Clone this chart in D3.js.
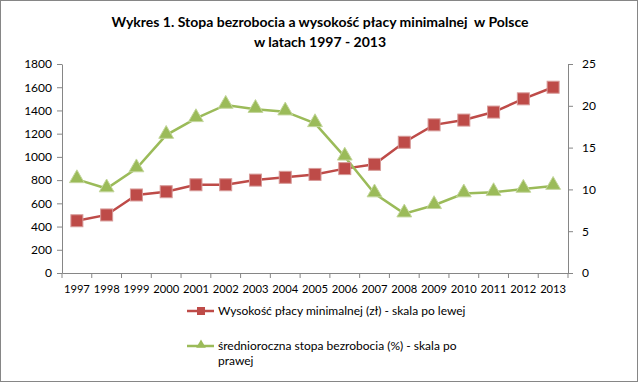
<!DOCTYPE html>
<html><head><meta charset="utf-8">
<script src="https://cdn.jsdelivr.net/npm/d3@7"></script>
<style>body{margin:0;background:#fff}svg{display:block}text{font-family:Lato,"Open Sans",sans-serif}</style>
</head><body><svg id="c" width="640" height="383"></svg>
<script>
const years = ["1997","1998","1999","2000","2001","2002","2003","2004","2005","2006","2007","2008","2009","2010","2011","2012","2013"];
const wage = [450,500,672,700,760,760,800,824,849,899,936,1126,1276,1317,1386,1500,1600];
const unemployment = [11.2,10.1,12.5,16.5,18.5,20.1,19.6,19.3,17.9,13.9,9.5,7.1,8.1,9.5,9.65,10.05,10.4];
const leftTicks = [0,200,400,600,800,1000,1200,1400,1600,1800];
const rightTicks = [0,5,10,15,20,25];
const seriesNames = ["Wysokość płacy minimalnej (zł) - skala po lewej","średnioroczna stopa bezrobocia (%) - skala po","prawej"];
const titleLines = ["Wykres 1. Stopa bezrobocia a wysokość płacy minimalnej  w Polsce","w latach 1997 - 2013"];

const svg = d3.select("#c");
const L=62, R=568, T=64, B=273;
const axisCol="#868686", red="#be4b48", green="#9bbb59";
svg.append("rect").attr("x",0.5).attr("y",0.5).attr("width",637).attr("height",381).attr("fill","#fff").attr("stroke",axisCol);

const x = d3.scaleBand().domain(years).range([L,R]);
const yL = d3.scaleLinear().domain([0,1800]).range([B,T]);
const yR = d3.scaleLinear().domain([0,25]).range([B,T]);

svg.selectAll(".tt").data(titleLines).join("text").attr("x",320).attr("y",(d,i)=>27+i*20)
  .attr("text-anchor","middle").attr("font-weight","bold").attr("font-size",14).style("white-space","pre").text(d=>d);

// axes
const gl = svg.append("g").attr("transform",`translate(${L},0)`).call(d3.axisLeft(yL).tickValues(leftTicks).tickFormat(d3.format("d")).tickSize(5).tickPadding(5).tickSizeOuter(0));
const gr = svg.append("g").attr("transform",`translate(${R},0)`).call(d3.axisRight(yR).tickValues(rightTicks).tickFormat(d3.format("d")).tickSize(5).tickPadding(9).tickSizeOuter(0));
const gx = svg.append("g").attr("transform",`translate(0,${B})`).call(d3.axisBottom(x).tickSize(0).tickPadding(12).tickSizeOuter(0));
gx.selectAll(".tick line").remove();
const bounds = years.map(y=>x(y)).concat([R]);
gx.selectAll(".bt").data(bounds).join("line").attr("x1",d=>d).attr("x2",d=>d).attr("y1",0).attr("y2",5).attr("stroke",axisCol);
[gl,gr,gx].forEach(g=>{g.selectAll("path,line").attr("stroke",axisCol);g.selectAll("text").attr("font-size",12).attr("fill","#000").attr("font-family","Lato,'Open Sans',sans-serif");});
gx.selectAll("text").attr("font-size",11.2);

const cx = d=>x(d)+x.bandwidth()/2;
const lineW = d3.line().x((d,i)=>cx(years[i])).y(d=>yL(d));
const lineU = d3.line().x((d,i)=>cx(years[i])).y(d=>yR(d));
svg.append("path").attr("d",lineW(wage)).attr("fill","none").attr("stroke",red).attr("stroke-width",2.5);
svg.append("path").attr("d",lineU(unemployment)).attr("fill","none").attr("stroke",green).attr("stroke-width",2.5);

const sq=12;
svg.selectAll(".sq").data(wage).join("rect").attr("x",(d,i)=>cx(years[i])-sq/2).attr("y",d=>yL(d)-sq/2)
  .attr("width",sq).attr("height",sq).attr("fill",red).attr("stroke","#d79a98").attr("stroke-width",1);
const tri = d3.symbol().type(d3.symbolTriangle).size(95);
svg.selectAll(".tr").data(unemployment).join("path").attr("d",tri)
  .attr("transform",(d,i)=>`translate(${cx(years[i])},${yR(d)-1})`).attr("fill",green).attr("stroke","#c3d69b").attr("stroke-width",1);

// legend
const lg = svg.append("g");
lg.append("line").attr("x1",187).attr("x2",214).attr("y1",311).attr("y2",311).attr("stroke",red).attr("stroke-width",2.5);
lg.append("rect").attr("x",197).attr("y",307).attr("width",8).attr("height",8).attr("fill",red);
lg.append("text").attr("x",218).attr("y",315).attr("font-size",12).text(seriesNames[0]);
lg.append("line").attr("x1",187).attr("x2",214).attr("y1",346).attr("y2",346).attr("stroke",green).attr("stroke-width",2.5);
lg.append("path").attr("d",d3.symbol().type(d3.symbolTriangle).size(40)).attr("transform","translate(201,345)").attr("fill",green);
lg.append("text").attr("x",218).attr("y",350).attr("font-size",12).text(seriesNames[1]);
lg.append("text").attr("x",218).attr("y",365).attr("font-size",12).text(seriesNames[2]);
</script></body></html>
